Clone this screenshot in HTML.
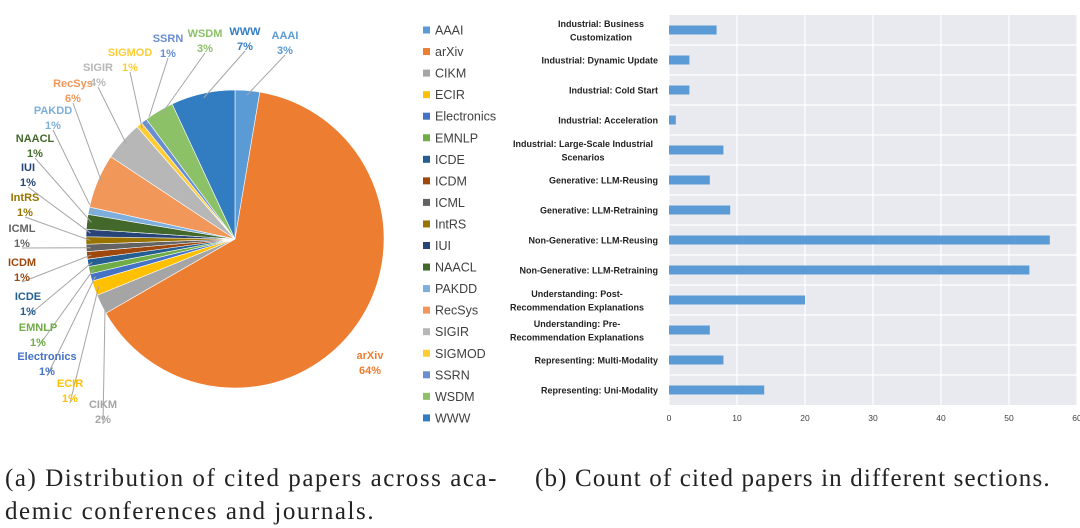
<!DOCTYPE html>
<html><head><meta charset="utf-8"><style>
body{margin:0;background:#fff;width:1080px;height:528px;overflow:hidden;font-family:"Liberation Sans",sans-serif}
svg{position:absolute;left:0;top:0}
.cap{position:absolute;font-family:"Liberation Serif",serif;font-size:25px;color:#222;line-height:33px;white-space:nowrap}
</style></head><body>
<svg id="s" width="1080" height="528"></svg>
<div class="cap" style="left:5px;top:462px;letter-spacing:1.55px">(a) Distribution of cited papers across aca-<br>demic conferences and journals.</div>
<div class="cap" style="left:535px;top:462px;letter-spacing:1.15px">(b) Count of cited papers in different sections.</div>
<script>
const venues=["AAAI","arXiv","CIKM","ECIR","Electronics","EMNLP","ICDE","ICDM","ICML","IntRS","IUI","NAACL","PAKDD","RecSys","SIGIR","SIGMOD","SSRN","WSDM","WWW"];
const venueCounts=[5,120,4,3,1.5,1.5,1.5,1.5,1.5,1.5,1.5,3,1.5,11,8,1.2,1.2,6,13];
const venuePct=["3%","64%","2%","1%","1%","1%","1%","1%","1%","1%","1%","1%","1%","6%","4%","1%","1%","3%","7%"];
const colors=["#5b9bd5","#ed7d31","#a5a5a5","#ffc000","#4472c4","#70ad47","#255e91","#9e480e","#636363","#997300","#264478","#43682b","#7cafdd","#f1975a","#b7b7b7","#ffcd33","#698ed0","#8cc168","#327dc2"];
const labelPos=[[285,35],[370,355],[103,404],[70,383],[47,356],[38,327],[28,296],[22,262],[22,228],[25,197],[28,167],[35,138],[53,110],[73,83],[98,67],[130,52],[168,38],[205,33],[245,31]];
const sections=["Industrial: Business|Customization","Industrial: Dynamic Update","Industrial: Cold Start","Industrial: Acceleration","Industrial: Large-Scale Industrial|Scenarios","Generative: LLM-Reusing","Generative: LLM-Retraining","Non-Generative: LLM-Reusing","Non-Generative: LLM-Retraining","Understanding: Post-|Recommendation Explanations","Understanding: Pre-|Recommendation Explanations","Representing: Multi-Modality","Representing: Uni-Modality"];
const sectionCounts=[7,3,3,1,8,6,9,56,53,20,6,8,14];
const xTicks=[0,10,20,30,40,50,60];

const s=document.getElementById('s');const NS="http://www.w3.org/2000/svg";
function el(t,a,p){const e=document.createElementNS(NS,t);for(const k in a)e.setAttribute(k,a[k]);(p||s).appendChild(e);return e;}
const cx=235,cy=239,r=149;const tot=venueCounts.reduce((a,b)=>a+b,0);let a0=0;
function pt(a,rr){return [cx+rr*Math.sin(a),cy-rr*Math.cos(a)];}
venues.forEach((v,i)=>{const a1=a0+venueCounts[i]/tot*2*Math.PI;const p0=pt(a0,r),p1=pt(a1,r);const lg=(a1-a0)>Math.PI?1:0;
const e=el('path',{d:`M${cx},${cy}L${p0[0]},${p0[1]}A${r},${r} 0 ${lg} 1 ${p1[0]},${p1[1]}Z`,fill:colors[i],stroke:'#fff','stroke-width':0.6});


const am=(a0+a1)/2;const pe=pt(am,r*0.97);const lp=labelPos[i];
if(v!=="arXiv"){const ln=el('line',{x1:lp[0],y1:lp[1]+20,x2:pe[0],y2:pe[1],stroke:'#a6a6a6','stroke-width':1});

}
const t=el('text',{x:lp[0],y:lp[1]+4,'text-anchor':'middle','font-size':11,'font-weight':'bold',fill:colors[i]});t.textContent=v;


const t2=el('text',{x:lp[0],y:lp[1]+19,'text-anchor':'middle','font-size':11,'font-weight':'bold',fill:colors[i]});t2.textContent=venuePct[i];


a0=a1;});
venues.forEach((v,i)=>{const y=30+i*21.55;
const g=el('g',{});

el('rect',{x:423,y:y-3.5,width:7,height:7,fill:colors[i]},g);
const t=el('text',{x:435,y:y+4.5,'font-size':12.5,fill:'#404040'},g);t.textContent=v;});
const X0=669,X1=1077,Y0=15,Y1=405;const xs=v=>X0+v/60*(X1-X0);const band=(Y1-Y0)/sections.length;
const bg=el('rect',{x:X0,y:Y0,width:X1-X0,height:Y1-Y0,fill:'#e9eaef'});


xTicks.forEach(t=>{el('line',{x1:xs(t),y1:Y0,x2:xs(t),y2:Y1,stroke:'#fff','stroke-width':1.2});
const tx=el('text',{x:xs(t),y:421,'text-anchor':'middle','font-size':8.5,fill:'#404040'});tx.textContent=t;

});
for(let i=1;i<sections.length;i++)el('line',{x1:X0,y1:Y0+i*band,x2:X1,y2:Y0+i*band,stroke:'#fff','stroke-width':1.2});
sections.forEach((c,i)=>{const yc=Y0+band*(i+0.5);
const b=el('rect',{x:xs(0),y:yc-4.5,width:xs(sectionCounts[i])-xs(0),height:9,fill:'#5b9bd5'});


const parts=c.split('|');parts.forEach((p,j)=>{const t=el('text',{x:658,y:yc+3.5+(j-(parts.length-1)/2)*13.5,'text-anchor':'end','font-size':9,'font-weight':'bold',fill:'#222'});
if(parts.length>1){t.setAttribute('text-anchor','middle');t.setAttribute('x',parts[0].length>30?583:(c.startsWith('Industrial: Business')?601:577));}
t.textContent=p;

});});
</script>
</body></html>
